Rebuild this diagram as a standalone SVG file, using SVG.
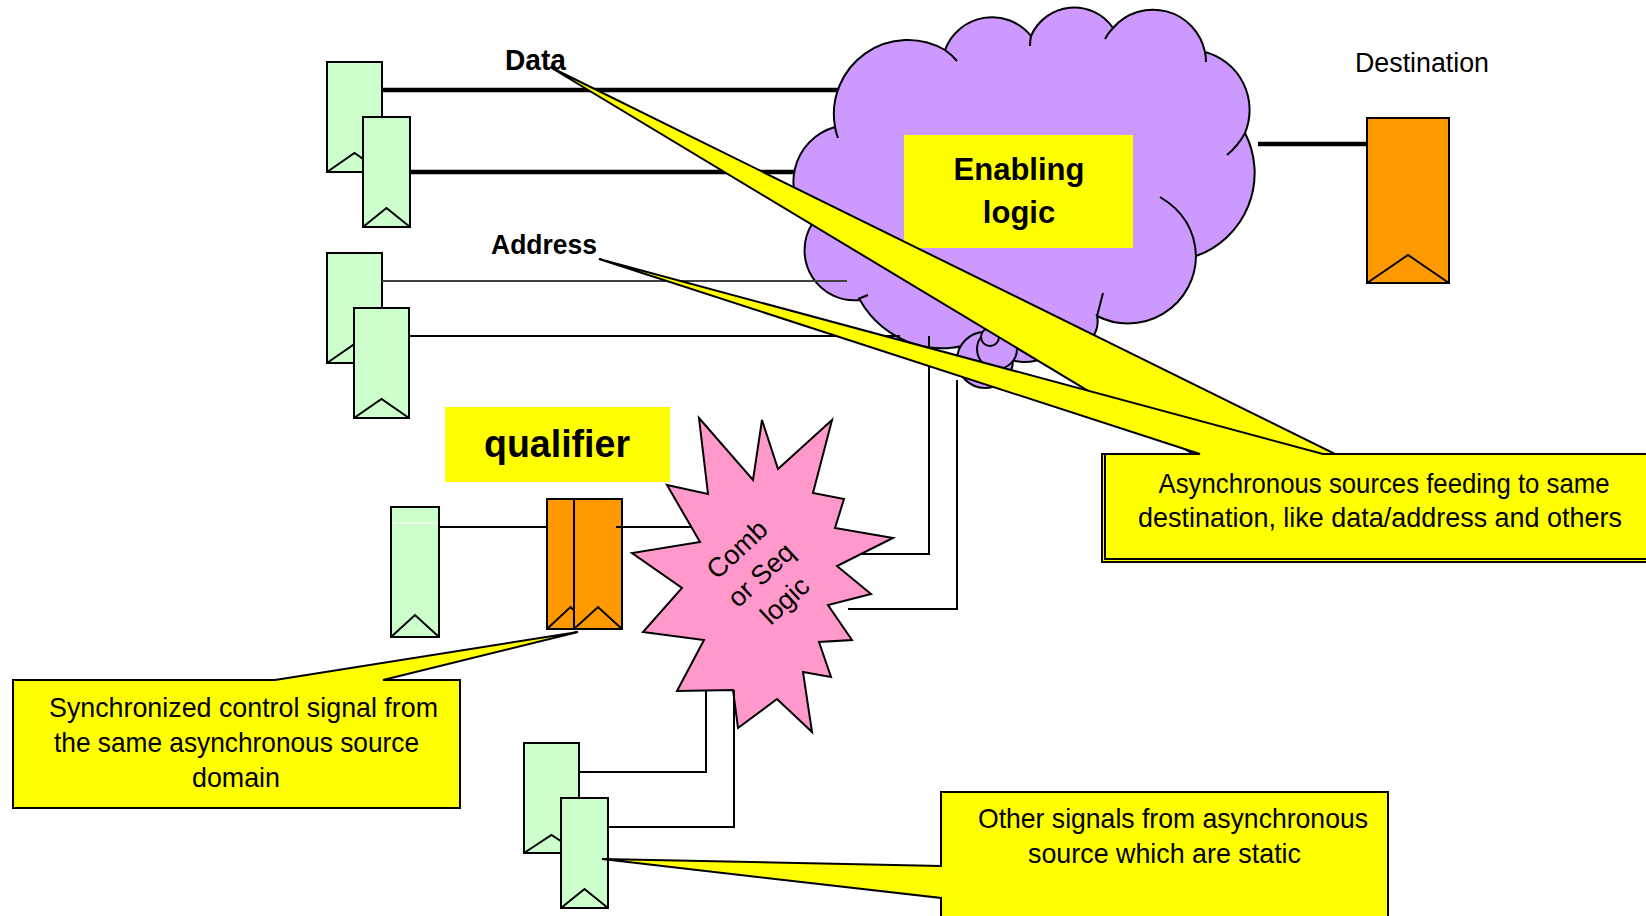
<svg xmlns="http://www.w3.org/2000/svg" width="1646" height="916" viewBox="0 0 1646 916">
  <style>
    .ffg { fill: #CCFFCC; stroke: #000; stroke-width: 2; }
    .ffo { fill: #FF9900; stroke: #000; stroke-width: 2; }
    .chev { fill: none; stroke: #000; stroke-width: 2; stroke-linejoin: miter; }
    .wire { fill: none; stroke: #000; stroke-width: 2; }
    .bus { fill: none; stroke: #000; stroke-width: 4.5; }
    .callout { fill: #FFFF00; stroke: #000; stroke-width: 2; stroke-linejoin: miter; }
    .lbl { font-family: "Liberation Sans", Arial, sans-serif; fill: #000; }
    .b { font-weight: bold; }
    .note { font-size: 28.5px; text-anchor: middle; }
  </style>

  <!-- enabling logic cloud -->
  <g id="enabling-cloud">
    <path d="M835,127 A74,74 0 0,1 945,50 A50,50 0 0,1 1031,36 A47,47 0 0,1 1113,28 A53,53 0 0,1 1205,52 A60,60 0 0,1 1245,133 A88,88 0 0,1 1196,256 A68,68 0 0,1 1097,316 A26,26 0 0,1 1060,345 A45,45 0 0,1 985,338 A94,94 0 0,1 860,300 A50,50 0 0,1 812,224 A57,57 0 0,1 835,127 Z" fill="#CC99FF" stroke="#000" stroke-width="2"/>
    <path d="M835,127 q1,6 3,11 M945,50 q7,5 12,11 M1031,36 q-1,5 -1,10 M1113,28 q-5,5 -8,11 M1205,52 q1,5 1,10 M1245,133 q-7,13 -18,22 M1196,256 C1195,230 1182,210 1160,197 M1097,316 q3,-11 6,-23 M858,299 l10,-4" fill="none" stroke="#000" stroke-width="2"/>
    <circle cx="985" cy="360" r="28" fill="#CC99FF" stroke="#000" stroke-width="2"/>
    <circle cx="997" cy="349" r="20" fill="#CC99FF" stroke="#000" stroke-width="2"/>
    <circle cx="990" cy="337" r="9" fill="#CC99FF" stroke="#000" stroke-width="2"/>
    <rect x="904" y="135" width="229" height="113" fill="#FFFF00"/>
    <text class="lbl b" x="1019" y="180" font-size="31" text-anchor="middle">Enabling</text>
    <text class="lbl b" x="1019" y="223" font-size="31" text-anchor="middle">logic</text>
  </g>

  <!-- combinational / sequential logic burst -->
  <g id="comb-logic">
    <polygon points="699,418 753,480 762,420 778,469 832,420 813,493 844,499 835,528 893,538 837,566 871,594 828,605 852,640 819,642 831,677 803,672 812,732 777,699 738,728 733,690 677,691 704,640 643,632 682,588 632,553 700,542 667,485 708,494" fill="#FF99CC" stroke="#000" stroke-width="2" stroke-linejoin="miter"/>
    <g transform="translate(761,575) rotate(-43)">
      <text class="lbl" x="0" y="-26" font-size="27" text-anchor="middle">Comb</text>
      <text class="lbl" x="0" y="9" font-size="27" text-anchor="middle">or Seq</text>
      <text class="lbl" x="0" y="44" font-size="27" text-anchor="middle">logic</text>
    </g>
  </g>

  <!-- data source flops -->
  <g id="ff-data-1">
    <rect class="ffg" x="327" y="62" width="55" height="110"/>
    <polyline class="chev" points="327,172 354.5,153 382,172"/>
  </g>
  <g id="ff-data-2">
    <rect class="ffg" x="363" y="117" width="47" height="110"/>
    <polyline class="chev" points="363,227 386.5,208 410,227"/>
  </g>

  <!-- address source flops -->
  <g id="ff-addr-1">
    <rect class="ffg" x="327" y="253" width="55" height="110"/>
    <polyline class="chev" points="327,363 354.5,344 382,363"/>
  </g>
  <g id="ff-addr-2">
    <rect class="ffg" x="354" y="308" width="55" height="110"/>
    <polyline class="chev" points="354,418 381.5,399 409,418"/>
  </g>

  <!-- control source flop -->
  <g id="ff-ctrl">
    <rect class="ffg" x="391" y="507" width="48" height="130"/>
    <line x1="392" y1="523" x2="438" y2="523" stroke="#FFFFFF" stroke-width="1"/>
    <polyline class="chev" points="391,637 415,615 439,637"/>
  </g>

  <!-- qualifier synchronizer flops -->
  <g id="ff-sync-1">
    <rect class="ffo" x="547" y="499" width="47" height="130"/>
    <polyline class="chev" points="547,629 570.5,607 594,629"/>
  </g>
  <g id="ff-sync-2">
    <rect class="ffo" x="574" y="499" width="48" height="130"/>
    <polyline class="chev" points="574,629 598,607 622,629"/>
  </g>

  <!-- static source flops -->
  <g id="ff-static-1">
    <rect class="ffg" x="524" y="743" width="55" height="110"/>
    <polyline class="chev" points="524,853 551.5,835 579,853"/>
  </g>
  <g id="ff-static-2">
    <rect class="ffg" x="561" y="798" width="47" height="110"/>
    <polyline class="chev" points="561,908 584.5,889 608,908"/>
  </g>

  <!-- destination flop -->
  <g id="ff-dest">
    <rect class="ffo" x="1367" y="118" width="82" height="165"/>
    <polyline class="chev" points="1367,283 1408,255 1449,283"/>
    <text class="lbl" x="1355" y="72" font-size="27" textLength="134" lengthAdjust="spacingAndGlyphs">Destination</text>
  </g>

  <!-- wiring -->
  <g id="connectors">
    <line class="bus" x1="382" y1="90" x2="838" y2="90"/>
    <line class="bus" x1="410" y1="172" x2="794" y2="172"/>
    <line class="bus" x1="1258" y1="144" x2="1367" y2="144"/>
    <line x1="382" y1="281" x2="847" y2="281" stroke="#404040" stroke-width="2"/>
    <line class="wire" x1="409" y1="336" x2="900" y2="336"/>
    <line class="wire" x1="439" y1="527" x2="547" y2="527"/>
    <line class="wire" x1="616" y1="527" x2="691" y2="527"/>
    <polyline class="wire" points="860,554 929,554 929,336"/>
    <polyline class="wire" points="848,609 957,609 957,380"/>
    <polyline class="wire" points="579,772 706,772 706,691"/>
    <polyline class="wire" points="608,827 734,827 734,690"/>
  </g>

  <!-- labels -->
  <g id="qualifier">
    <rect x="445" y="407" width="225" height="75" fill="#FFFF00"/>
    <text class="lbl b" x="557" y="457" font-size="38" text-anchor="middle" textLength="146" lengthAdjust="spacingAndGlyphs">qualifier</text>
  </g>
  <text id="data-label" class="lbl b" x="505" y="70" font-size="29" textLength="61" lengthAdjust="spacingAndGlyphs">Data</text>
  <text id="address-label" class="lbl b" x="491" y="254" font-size="28.5" textLength="106" lengthAdjust="spacingAndGlyphs">Address</text>

  <!-- callouts -->
  <g id="callout-async">
    <path class="callout" d="M1102,454 L1193,454 L550,67 L1335,454 L1647,454 L1647,562 L1102,562 Z"/>
    <path class="callout" d="M1105,454 L1200,454 L599,259 L1323,454 L1647,454 L1647,559 L1105,559 Z"/>
    <text class="lbl note" x="1384" y="493" textLength="451" lengthAdjust="spacingAndGlyphs">Asynchronous sources feeding to same</text>
    <text class="lbl note" x="1380" y="527" textLength="484" lengthAdjust="spacingAndGlyphs">destination, like data/address and others</text>
  </g>
  <g id="callout-sync">
    <path class="callout" d="M13,680 L275,680 L578,632 L383,680 L460,680 L460,808 L13,808 Z"/>
    <text class="lbl note" x="243.5" y="717" textLength="389" lengthAdjust="spacingAndGlyphs">Synchronized control signal from</text>
    <text class="lbl note" x="236.5" y="752" textLength="365" lengthAdjust="spacingAndGlyphs">the same asynchronous source</text>
    <text class="lbl note" x="236" y="787" textLength="88" lengthAdjust="spacingAndGlyphs">domain</text>
  </g>
  <g id="callout-static">
    <path class="callout" d="M941,792 L1388,792 L1388,925 L941,925 L941,898 L602,859 L941,866 Z"/>
    <text class="lbl note" x="1173" y="828" textLength="390" lengthAdjust="spacingAndGlyphs">Other signals from asynchronous</text>
    <text class="lbl note" x="1164.5" y="863" textLength="273" lengthAdjust="spacingAndGlyphs">source which are static</text>
  </g>
</svg>
